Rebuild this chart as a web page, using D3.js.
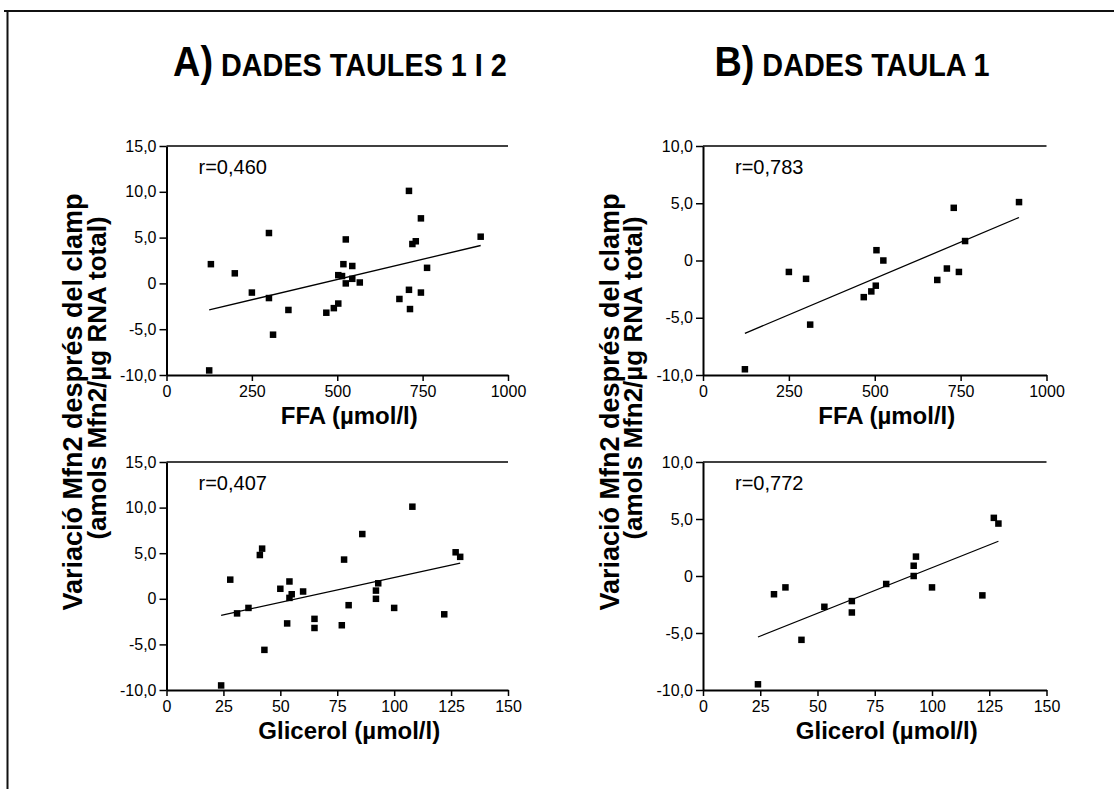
<!DOCTYPE html>
<html>
<head>
<meta charset="utf-8">
<script src="https://cdn.jsdelivr.net/npm/d3@7"></script>
<style>
  body { margin: 0; background: #fff; }
  text { font-family: "Liberation Sans", Arial, sans-serif; fill: #000; }
</style>
</head>
<body>
<div class="vis-scatter"></div>
<script>
// A) DADES TAULES 1 I 2
const ffaA = [125, 130, 200, 250, 300, 300, 312, 357, 468, 490, 503, 503, 514, 518, 525, 525, 544, 544, 566, 682, 710, 710, 713, 720, 730, 745, 745, 763, 920];
const mfnFfaA = [-9.5, 2.1, 1.1, -1.0, 5.5, -1.6, -5.6, -2.9, -3.2, -2.7, -2.2, 0.9, 0.8, 2.1, 4.8, 0, 1.9, 0.5, 0.1, -1.7, 10.1, -0.7, -2.8, 4.3, 4.6, 7.1, -1.0, 1.7, 5.1];
const glyA = [24, 28, 31, 36, 41, 42, 43, 50, 53, 54, 54, 55, 60, 65, 65, 77, 78, 80, 86, 92, 92, 93, 100, 108, 122, 127, 129];
const mfnGlyA = [-9.5, 2.1, -1.6, -1.0, 4.8, 5.5, -5.6, 1.1, -2.7, 1.9, 0.1, 0.5, 0.8, -2.2, -3.2, -2.9, 4.3, -0.7, 7.1, 0.9, 0, 1.7, -1.0, 10.1, -1.7, 5.1, 4.6];

// B) DADES TAULA 1
const ffaB = [122, 250, 300, 312, 468, 490, 503, 505, 525, 682, 710, 730, 745, 763, 920];
const mfnFfaB = [-9.5, -1.0, -1.6, -5.6, -3.2, -2.7, -2.2, 0.9, 0, -1.7, -0.7, 4.6, -1.0, 1.7, 5.1];
const glyB = [24, 31, 36, 43, 53, 65, 65, 80, 92, 92, 93, 100, 122, 127, 129];
const mfnGlyB = [-9.5, -1.6, -1.0, -5.6, -2.7, -2.2, -3.2, -0.7, 0.9, 0, 1.7, -1.0, -1.7, 5.1, 4.6];

const rLabels = ["r=0,460", "r=0,407", "r=0,783", "r=0,772"];
const ffaTicks = [0, 250, 500, 750, 1000];
const glyTicks = [0, 25, 50, 75, 100, 125, 150];
const yTicksA = [-10, -5, 0, 5, 10, 15];
const yTicksB = [-10, -5, 0, 5, 10];

const W = 1114, H = 789;
const cols = [[166.5, 508], [703, 1046.5]];
const rows = [[146, 375], [462, 690]];

const svg = d3.select(".vis-scatter")
  .append("svg")
  .attr("width", W)
  .attr("height", H);

// outer frame (only top and left edges are visible)
svg.append("path")
  .attr("d", `M4,11H${W}M7.5,11V${H}`)
  .attr("fill", "none")
  .attr("stroke", "#111")
  .attr("stroke-width", 2);

const fmtY = d => d === 0 ? "0" : d.toFixed(1).replace(".", ",");

function drawPanel(col, row, xs, ys, xDomain, xTicks, yDomain, yTicks, rLabel, xTitle) {
  const [x0, x1] = cols[col];
  const [y0, y1] = rows[row];
  const x = d3.scaleLinear().domain(xDomain).range([x0, x1]);
  const y = d3.scaleLinear().domain(yDomain).range([y1, y0]);
  const g = svg.append("g");

  // top edge of the plot box
  g.append("line")
    .attr("x1", x0).attr("x2", x1)
    .attr("y1", y0).attr("y2", y0)
    .attr("stroke", "#000").attr("stroke-width", 1.5);

  const xAxis = g.append("g")
    .attr("transform", `translate(0,${y1})`)
    .call(d3.axisBottom(x).tickValues(xTicks).tickSize(6).tickSizeOuter(0).tickPadding(5)
      .tickFormat(d3.format("d")));
  const yAxis = g.append("g")
    .attr("transform", `translate(${x0},0)`)
    .call(d3.axisLeft(y).tickValues(yTicks).tickSize(7).tickSizeOuter(0).tickPadding(3)
      .tickFormat(fmtY));
  [xAxis, yAxis].forEach(a => {
    a.select(".domain").attr("stroke", "#000").attr("stroke-width", 2);
    a.selectAll(".tick line").attr("stroke", "#000").attr("stroke-width", 1.5);
    a.selectAll("text").attr("font-size", 16).attr("font-family", null).attr("fill", "#000");
  });

  // least squares fit across the data range
  const pts = xs.map((v, i) => [v, ys[i]]);
  const mx = d3.mean(xs), my = d3.mean(ys);
  const slope = d3.sum(pts, p => (p[0] - mx) * (p[1] - my)) / d3.sum(pts, p => (p[0] - mx) ** 2);
  const fit = d3.extent(xs).map(v => [v, my + slope * (v - mx)]);
  g.append("path")
    .datum(fit)
    .attr("fill", "none")
    .attr("stroke", "#000")
    .attr("stroke-width", 1.3)
    .attr("d", d3.line().x(d => x(d[0])).y(d => y(d[1])));

  const s = 6.5;
  g.selectAll("rect.pt")
    .data(pts)
    .join("rect")
    .attr("class", "pt")
    .attr("x", d => x(d[0]) - s / 2)
    .attr("y", d => y(d[1]) - s / 2)
    .attr("width", s)
    .attr("height", s)
    .attr("fill", "#000");

  g.append("text")
    .attr("x", x0 + 32)
    .attr("y", y0 + 28)
    .attr("font-size", 20)
    .text(rLabel);

  g.append("text")
    .attr("x", (x0 + x1) / 2 + 12)
    .attr("y", y1 + 49)
    .attr("text-anchor", "middle")
    .attr("font-size", 24)
    .attr("font-weight", "bold")
    .text(xTitle);
}

drawPanel(0, 0, ffaA, mfnFfaA, [0, 1000], ffaTicks, [-10, 15], yTicksA, rLabels[0], "FFA (µmol/l)");
drawPanel(0, 1, glyA, mfnGlyA, [0, 150], glyTicks, [-10, 15], yTicksA, rLabels[1], "Glicerol (µmol/l)");
drawPanel(1, 0, ffaB, mfnFfaB, [0, 1000], ffaTicks, [-10, 10], yTicksB, rLabels[2], "FFA (µmol/l)");
drawPanel(1, 1, glyB, mfnGlyB, [0, 150], glyTicks, [-10, 10], yTicksB, rLabels[3], "Glicerol (µmol/l)");

// y axis titles, one per column; the two lines are not centred on the same point
const yTitle = [["Variació Mfn2 després del clamp", -1.5, 402, 27], ["(amols Mfn2/µg RNA total)", 22, 378, 26]];
cols.forEach(c => {
  yTitle.forEach(([txt, dx, cy, fs]) => {
    svg.append("text")
      .attr("transform", `translate(${c[0] - 83 + dx},${cy}) rotate(-90)`)
      .attr("text-anchor", "middle")
      .attr("font-size", fs)
      .attr("font-weight", "bold")
      .text(txt);
  });
});

// column titles, condensed bold
const titles = [["A)", "DADES TAULES 1 I 2", 340], ["B)", "DADES TAULA 1", 852]];
titles.forEach(([lead, rest, cx]) => {
  const t = svg.append("text")
    .attr("transform", `translate(${cx},76) scale(0.9,1)`)
    .attr("text-anchor", "middle")
    .attr("font-weight", "bold");
  t.append("tspan").attr("font-size", 42).text(lead);
  t.append("tspan").attr("font-size", 32).text(" " + rest);
});
</script>
</body>
</html>
